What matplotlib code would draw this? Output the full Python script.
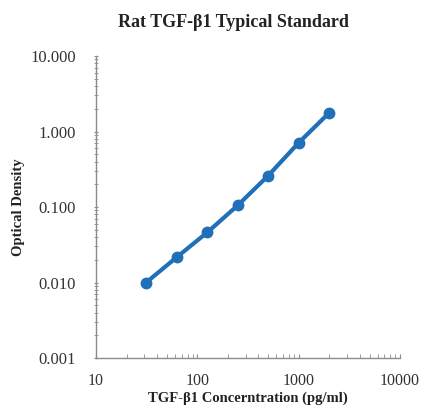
import matplotlib
matplotlib.use('Agg')
import matplotlib.pyplot as plt
from matplotlib.ticker import LogLocator, FuncFormatter, NullFormatter

plt.rcParams['font.family'] = ['Liberation Serif', 'DejaVu Serif']

# standard curve points
conc = [31.25, 62.5, 125, 250, 500, 1000, 2000]
od = [0.0100, 0.0216, 0.046, 0.105, 0.26, 0.71, 1.77]

blue = '#1f70b8'
grey = '#8c8c8c'

fig = plt.figure(figsize=(4.22, 4.08), dpi=100)
ax = fig.add_axes([0.2275, 0.1225, 0.7204, 0.7402])

ax.plot(conc, od, color=blue, lw=3, marker='o', ms=7.5, solid_capstyle='round')
ax.set_xscale('log')
ax.set_yscale('log')
ax.set_xlim(10, 10000)
ax.set_ylim(0.001, 10)

ax.yaxis.set_major_formatter(FuncFormatter(lambda v, p: '%.3f' % v))
ax.xaxis.set_major_formatter(FuncFormatter(lambda v, p: '%d' % round(v)))
ax.xaxis.set_minor_locator(LogLocator(base=10, subs=range(2, 10)))
ax.yaxis.set_minor_locator(LogLocator(base=10, subs=range(2, 10)))
ax.xaxis.set_minor_formatter(NullFormatter())
ax.yaxis.set_minor_formatter(NullFormatter())

for s in ['top', 'right']:
    ax.spines[s].set_visible(False)
for s in ['left', 'bottom']:
    ax.spines[s].set_color(grey)
    ax.spines[s].set_linewidth(1.0)

ax.tick_params(axis='both', which='major', labelsize=12, colors=grey, labelcolor='#333333', length=3)
ax.tick_params(axis='x', which='both', direction='in', pad=11, labelsize=11.5)
ax.tick_params(axis='y', which='both', direction='inout', pad=13)
ax.tick_params(which='minor', length=3, colors=grey)

fig.text(0.552, 0.945, 'Rat TGF-\u03b21 Typical Standard', ha='center', va='center',
         fontsize=13, fontweight='bold', color='#222222')
fig.text(0.588, 0.025, 'TGF-\u03b21 Concerntration (pg/ml)', ha='center', va='center',
         fontsize=10.5, fontweight='bold', color='#222222')
fig.text(0.045, 0.492, 'Optical Density', ha='center', va='center', rotation=90,
         fontsize=10.5, fontweight='bold', color='#222222')

fig.savefig('out.png', dpi=100)
